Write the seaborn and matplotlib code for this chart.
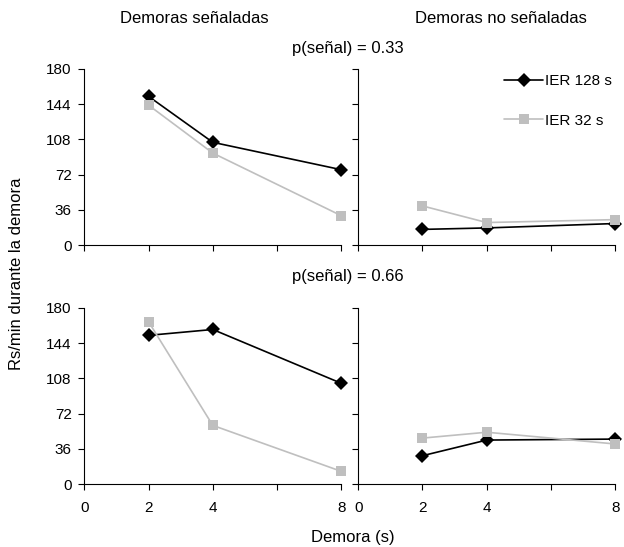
import pandas as pd
import numpy as np
import seaborn as sns
import matplotlib.pyplot as plt

# values
demora = [2, 4, 8]
ier128_sen_033 = [152, 105, 77]
ier32_sen_033 = [143, 94, 30]
ier128_nosen_033 = [16, 17.5, 22]
ier32_nosen_033 = [40, 23, 26]
ier128_sen_066 = [152, 158, 103]
ier32_sen_066 = [166, 60, 13]
ier128_nosen_066 = [29, 45, 46]
ier32_nosen_066 = [47, 53, 41]

col_titles = ["Demoras señaladas", "Demoras no señaladas"]
row_titles = ["p(señal) = 0.33", "p(señal) = 0.66"]
y_ticks = [0, 36, 72, 108, 144, 180]
x_ticks = [0, 2, 4, 6, 8]
x_ticklabels = ["0", "2", "4", "", "8"]


def panel_frame(a128, a32):
    return pd.DataFrame({"Demora": demora * 2,
                         "Rs": a128 + a32,
                         "IER": ["IER 128 s"] * 3 + ["IER 32 s"] * 3})


panels = [[panel_frame(ier128_sen_033, ier32_sen_033), panel_frame(ier128_nosen_033, ier32_nosen_033)],
          [panel_frame(ier128_sen_066, ier32_sen_066), panel_frame(ier128_nosen_066, ier32_nosen_066)]]

sns.set_theme(style="ticks")
plt.rcParams["font.family"] = ["Liberation Sans", "DejaVu Sans"]
plt.rcParams["text.color"] = "black"

fig = plt.figure(figsize=(6.24, 5.47), dpi=100)
lefts = [0.135, 0.574]
bottoms = [0.552, 0.115]
palette = {"IER 128 s": "black", "IER 32 s": "#bfbfbf"}
markers = {"IER 128 s": "D", "IER 32 s": "s"}

for r in range(2):
    for c in range(2):
        ax = fig.add_axes([lefts[c], bottoms[r], 0.412, 0.322])
        sns.lineplot(data=panels[r][c], x="Demora", y="Rs", hue="IER", style="IER",
                     hue_order=["IER 128 s", "IER 32 s"], style_order=["IER 128 s", "IER 32 s"],
                     palette=palette, markers=markers, dashes=False, markersize=7,
                     markeredgewidth=0, linewidth=1.2, ax=ax, clip_on=False)
        ax.set_xlim(0, 8)
        ax.set_ylim(0, 180)
        ax.set_xticks(x_ticks)
        ax.set_yticks(y_ticks)
        ax.set_xlabel("")
        ax.set_ylabel("")
        if r == 1:
            ax.set_xticklabels(x_ticklabels)
        else:
            ax.set_xticklabels([])
        if c == 1:
            ax.set_yticklabels([])
        ax.tick_params(labelsize=11, length=4, width=0.8, colors="black")
        ax.tick_params(axis="x", pad=8)
        ax.tick_params(axis="y", pad=5)
        for s in ["left", "bottom"]:
            ax.spines[s].set_linewidth(0.8)
            ax.spines[s].set_color("black")
        sns.despine(ax=ax)
        if r == 0 and c == 1:
            ax.legend(frameon=False, loc="upper right", bbox_to_anchor=(1.04, 1.05),
                      labelspacing=1.7, handlelength=2.6, handletextpad=0.1, fontsize=11)
        else:
            ax.get_legend().remove()

fig.text(0.311, 0.967, col_titles[0], ha="center", va="center", fontsize=12)
fig.text(0.802, 0.967, col_titles[1], ha="center", va="center", fontsize=12)
fig.text(0.558, 0.912, row_titles[0], ha="center", va="center", fontsize=12)
fig.text(0.558, 0.494, row_titles[1], ha="center", va="center", fontsize=12)
fig.text(0.027, 0.5, "Rs/min durante la demora", rotation=90, ha="center", va="center", fontsize=12)
fig.text(0.566, 0.017, "Demora (s)", ha="center", va="center", fontsize=12)

plt.savefig("out.png", dpi=100)
